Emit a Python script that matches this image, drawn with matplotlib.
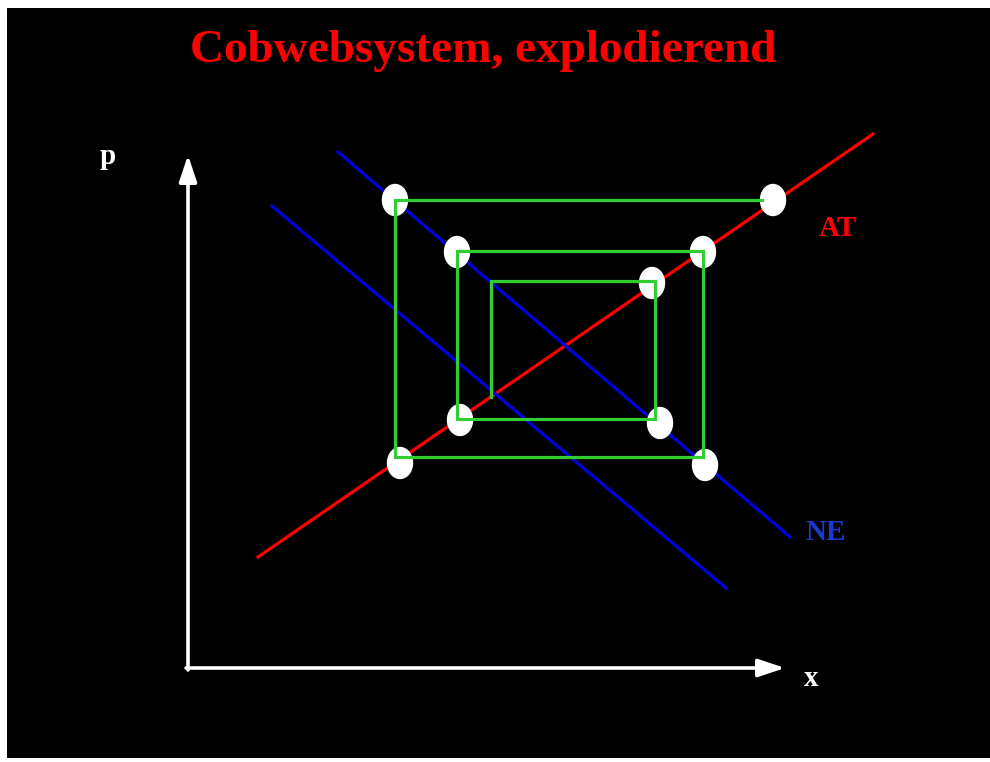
"""Cobweb diagram (explosive case) on a black slide."""

import matplotlib

matplotlib.use("Agg")
import matplotlib.pyplot as plt
from matplotlib.patches import Ellipse

# Coordinates, origin at the axes corner
at_x = [70, 685]
at_p = [111, 534]

ne_x = [150, 602]
ne_p = [516, 131]

ne2_x = [84, 538]
ne2_p = [462, 80]

web_x = [303, 303, 467, 467, 269, 269, 515, 515, 207, 207, 574]
web_p = [271, 387, 387, 249, 249, 417, 417, 211, 211, 468, 468]

dot_x = [207, 585, 269, 515, 464, 272, 472, 212, 517]
dot_p = [468, 468, 416, 416, 385, 248, 245, 205, 203]

axis_x_end = 597
axis_p_end = 513

serif = ["Liberation Serif", "DejaVu Serif"]

fig = plt.figure(figsize=(9.9, 7.62), dpi=100, facecolor="white")
ax = fig.add_axes([7 / 990, 4 / 762, 983 / 990, 750 / 762])
ax.set_facecolor("black")
ax.set_xlim(-181, 802)
ax.set_ylim(-90, 660)
ax.set_axis_off()
ax.add_patch(plt.Rectangle((-181, -90), 983, 750, color="black", zorder=0))

# axes arrows
arrow_kw = dict(arrowstyle="-|>,head_length=0.9,head_width=0.3", lw=2.6,
                color="white", mutation_scale=18, shrinkA=0, shrinkB=0)
ax.annotate("", xy=(axis_x_end, 0), xytext=(-2, 0), arrowprops=arrow_kw)
ax.annotate("", xy=(0, axis_p_end), xytext=(0, -2), arrowprops=arrow_kw)

ax.plot(at_x, at_p, color="#ff0000", lw=2.3, zorder=2)
ax.plot(ne_x, ne_p, color="#0000dd", lw=2.3, zorder=2)
ax.plot(ne2_x, ne2_p, color="#0000dd", lw=2.3, zorder=2)

for x, p in zip(dot_x, dot_p):
    ax.add_patch(Ellipse((x, p), 25, 31, color="white", zorder=3))

ax.plot(web_x, web_p, color="#33cc33", lw=2.3, zorder=4, solid_joinstyle="miter")

ax.text(295, 606, "Cobwebsystem, explodierend", color="#ff0000", fontsize=34,
        fontweight="bold", family=serif, ha="center", va="baseline")
ax.text(-80, 511, "p", color="white", fontsize=21, fontweight="bold",
        family=serif, ha="center", va="center")
ax.text(623, -10, "x", color="white", fontsize=21, fontweight="bold",
        family=serif, ha="center", va="center")
ax.text(650, 440, "AT", color="#ff0000", fontsize=21, fontweight="bold",
        family=serif, ha="center", va="center")
ax.text(638, 136, "NE", color="#1a3ad0", fontsize=21, fontweight="bold",
        family=serif, ha="center", va="center")

fig.savefig("out.png", dpi=100, facecolor=fig.get_facecolor())
